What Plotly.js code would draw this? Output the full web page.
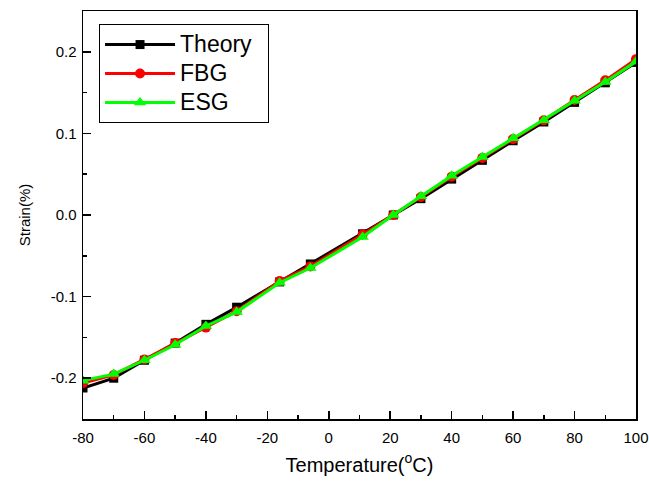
<!DOCTYPE html>
<html>
<head>
<meta charset="utf-8">
<script src="https://cdn.plot.ly/plotly-3.0.1.min.js"></script>
<style>html,body{margin:0;padding:0;background:#fff;}#chart{width:649px;height:483px;}</style>
</head>
<body>
<div id="chart"></div>
<script>
const temperature = [-80,-70,-60,-50,-40,-30,-16,-6,11,21,30,40,50,60,70,80,90,100];
const theory = [-0.212,-0.200,-0.178,-0.157,-0.134,-0.113,-0.082,-0.060,-0.023,0.000,0.020,0.044,0.067,0.091,0.114,0.138,0.162,0.187];
const fbg    = [-0.206,-0.196,-0.177,-0.157,-0.138,-0.118,-0.081,-0.063,-0.024,0.000,0.022,0.047,0.070,0.093,0.116,0.141,0.165,0.191];
const esg    = [-0.203,-0.195,-0.178,-0.159,-0.136,-0.119,-0.083,-0.065,-0.027,0.000,0.023,0.048,0.071,0.094,0.116,0.140,0.163,0.188];
const seriesNames = ['Theory','FBG','ESG'];
const xTickVals = [-80,-60,-40,-20,0,20,40,60,80,100];
const xTickText = ['-80','-60','-40','-20','0','20','40','60','80','100'];
const yTickVals = [-0.2,-0.1,0.0,0.1,0.2];
const yTickText = ['-0.2','-0.1','0.0','0.1','0.2'];

const font = 'Liberation Sans, Arial, sans-serif';
function tr(y, name, color, symbol, size) {
  return {x: temperature, y: y, name: '<span style="font-size:23px">' + name + '</span>&nbsp;&nbsp;',
    type: 'scatter', mode: 'lines+markers',
    line: {color: color, width: 3}, marker: {color: color, symbol: symbol, size: size}};
}
const data = [
  tr(theory, seriesNames[0], '#000000', 'square', 9),
  tr(fbg, seriesNames[1], '#ff0000', 'circle', 10),
  tr(esg, seriesNames[2], '#00ff00', 'triangle-up', 11)
];
const axisCommon = {showline: true, linecolor: '#000', linewidth: 1.5, mirror: true,
  ticks: 'inside', ticklen: 8, tickwidth: 1.5, tickcolor: '#000', showgrid: false, zeroline: false,
  tickfont: {family: font, size: 15, color: '#000'}};
const layout = {
  width: 649, height: 483,
  margin: {l: 83, r: 13, t: 11, b: 64},
  paper_bgcolor: '#fff', plot_bgcolor: '#fff',
  font: {family: font, color: '#000'},
  showlegend: true,
  legend: {x: 0.029, y: 0.968, xanchor: 'left', yanchor: 'top', bordercolor: '#000', borderwidth: 1,
    bgcolor: '#fff', font: {family: font, size: 20, color: '#000'}, itemwidth: 70, tracegroupgap: 0},
  xaxis: Object.assign({}, axisCommon, {range: [-80, 100], tickvals: xTickVals, ticktext: xTickText,
    ticklabelstandoff: 4,
    minor: {ticks: 'inside', ticklen: 4, tickwidth: 1.5, tickcolor: '#000', dtick: 10, tick0: 0},
    title: {text: 'Temperature(<sup>o</sup>C)', font: {family: font, size: 20, color: '#000'}, standoff: 13}}),
  yaxis: Object.assign({}, axisCommon, {range: [-0.25, 0.25], tickvals: yTickVals, ticktext: yTickText,
    ticklabelstandoff: 2,
    minor: {ticks: 'inside', ticklen: 4, tickwidth: 1.5, tickcolor: '#000', dtick: 0.05, tick0: 0},
    title: {text: 'Strain(%)', font: {family: font, size: 15, color: '#000'}, standoff: 16}})
};
Plotly.newPlot('chart', data, layout, {displayModeBar: false, staticPlot: true});
</script>
</body>
</html>
